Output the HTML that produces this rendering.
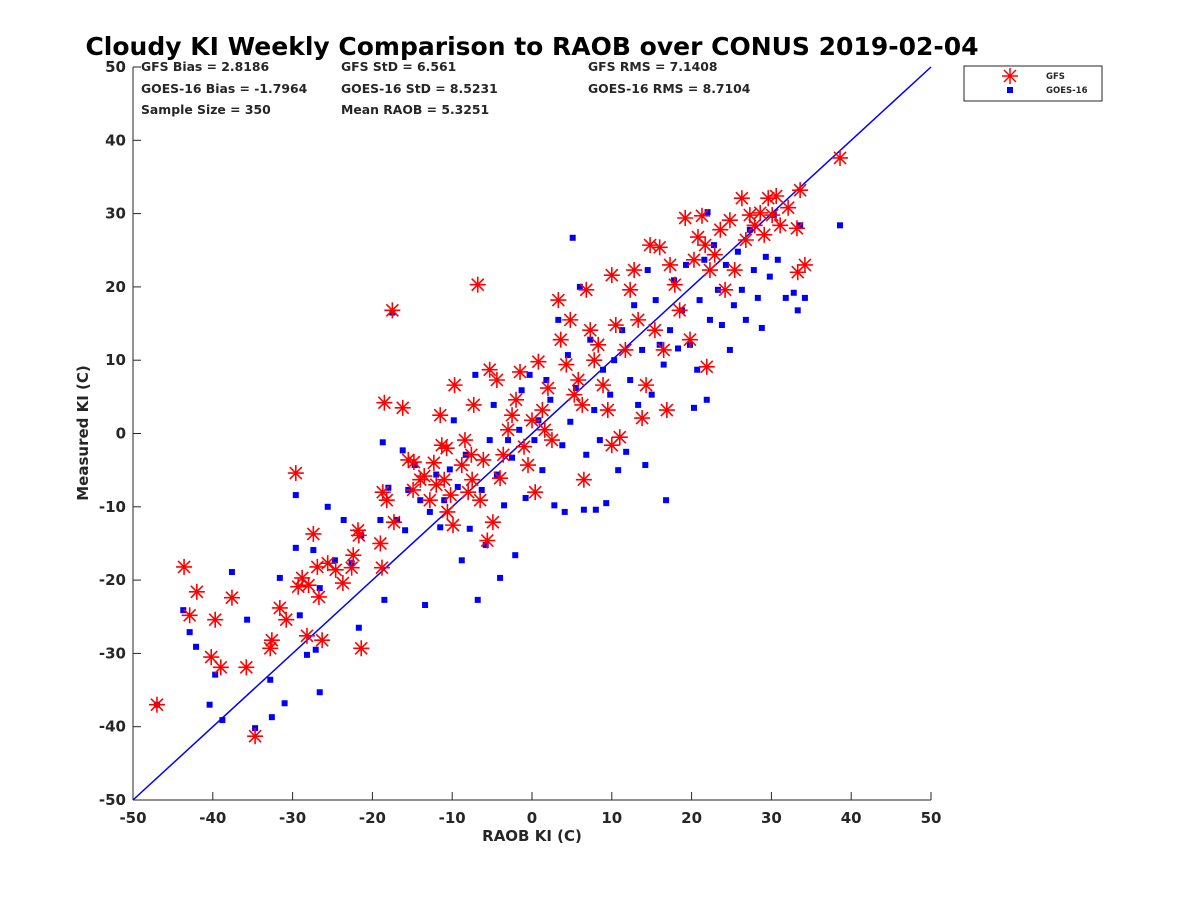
<!DOCTYPE html>
<html><head><meta charset="utf-8"><style>
body{margin:0;background:#fff}
svg text{font-family:"DejaVu Sans","Liberation Sans",sans-serif;font-weight:bold;fill:#262626}
</style></head><body>
<svg id="chart" width="1200" height="900" xmlns="http://www.w3.org/2000/svg">
<rect width="1200" height="900" fill="#fff"/>
<text x="532" y="55" text-anchor="middle" font-size="25" style="fill:#000">Cloudy KI Weekly Comparison to RAOB over CONUS 2019-02-04</text>
<g font-size="12.4">
<text x="141" y="71">GFS Bias = 2.8186</text>
<text x="141" y="93">GOES-16 Bias = -1.7964</text>
<text x="141" y="114">Sample Size = 350</text>
<text x="341" y="71">GFS StD = 6.561</text>
<text x="341" y="93">GOES-16 StD = 8.5231</text>
<text x="341" y="114">Mean RAOB = 5.3251</text>
<text x="588" y="71">GFS RMS = 7.1408</text>
<text x="588" y="93">GOES-16 RMS = 8.7104</text>
</g>
<g id="axes"></g>
<g id="marks"></g>
<text x="532" y="841" text-anchor="middle" font-size="15">RAOB KI (C)</text>
<text transform="translate(88,433) rotate(-90)" text-anchor="middle" font-size="15">Measured KI (C)</text>
<g>
<rect x="964" y="66" width="138" height="35" fill="#fff" stroke="#262626" stroke-width="1"/>
<g stroke="#f00" stroke-width="1.5">
<line x1="1002" y1="76" x2="1018" y2="76"/><line x1="1010" y1="68" x2="1010" y2="84"/><line x1="1004" y1="70" x2="1016" y2="82"/><line x1="1004" y1="82" x2="1016" y2="70"/></g>
<text x="1046" y="79" font-size="8.5">GFS</text>
<rect x="1007" y="87" width="6" height="6" fill="#00f"/>
<text x="1046" y="93" font-size="8.5">GOES-16</text>
</g>
</svg>
<script>
const xTicks=[-50,-40,-30,-20,-10,0,10,20,30,40,50];
const yTicks=[-50,-40,-30,-20,-10,0,10,20,30,40,50];
const gfsX=[-47,-43.6,-42.9,-42,-40.2,-39.7,-39,-37.6,-35.8,-34.7,-32.8,-32.6,-31.6,-30.8,-29.6,-29.3,-28.8,-28.2,-28,-27.4,-26.9,-26.7,-26.3,-25.6,-24.6,-23.7,-22.4,-21.8,-21.7,-21.4,-22.6,-19,-18.8,-18.5,-18.7,-18.2,-17.5,-17.3,-16.2,-15.5,-14.9,-14,-13.5,-12.8,-12.3,-12,-11.5,-11.3,-11,-10.6,-10.2,-9.9,-9.7,-8.8,-8.4,-8,-7.6,-7.3,-6.8,-6.5,-6.1,-5.6,-5.3,-4.9,-4.4,-4,-3.6,-3,-2.5,-2,-1.5,-1,-0.5,0,0.4,0.8,1.3,1.6,2,2.5,3.3,3.6,4.3,4.8,5.3,5.8,6.3,6.5,6.8,7.3,7.8,8.3,8.9,9.5,10,10.5,11,11.7,12.3,12.8,13.3,13.8,14.3,14.8,15.4,16,16.5,16.9,17.3,17.9,18.5,19.2,19.8,20.3,20.8,21.3,21.7,21.9,22.3,22.9,23.6,24.2,24.8,25.4,26.3,26.8,27.3,27.9,28.6,29.1,29.6,30.1,30.6,31.1,32.1,33.2,33.6,33.3,34.2,38.6,10,-7.5,-10.7,-14.8];
const gfsY=[-37,-18.2,-24.8,-21.6,-30.5,-25.4,-31.9,-22.4,-31.9,-41.3,-29.3,-28.2,-23.8,-25.4,-5.4,-20.9,-19.7,-27.6,-20.7,-13.7,-18.2,-22.3,-28.2,-17.7,-18.6,-20.4,-16.6,-13.2,-13.9,-29.3,-18.3,-15,-18.3,4.2,-8,-9.1,16.8,-12.1,3.5,-3.6,-7.7,-6.3,-5.8,-9.1,-4,-7,2.5,-1.6,-6.3,-10.7,-8.4,-12.5,6.6,-4.3,-0.9,-8,-2.9,3.9,20.3,-9.1,-3.6,-14.6,8.7,-12.1,7.3,-6.1,-2.9,0.5,2.5,4.6,8.4,-1.8,-4.3,1.8,-8,9.8,3.2,0.5,6.2,-0.9,18.2,12.8,9.4,15.5,5.3,7.3,3.9,-6.3,19.6,14.1,10,12.1,6.6,3.2,21.6,14.8,-0.5,11.4,19.6,22.3,15.5,2.1,6.6,25.7,14.1,25.4,11.4,3.2,23,20.3,16.8,29.4,12.8,23.7,26.8,29.7,25.7,9.1,22.3,24.4,27.8,19.6,29.1,22.3,32.1,26.4,29.8,28.4,30.1,27.1,32.1,29.8,32.4,28.4,30.8,28,33.2,22,23,37.6,-1.6,-6.3,-2,-3.9];
const goesX=[-47,-43.7,-42.9,-42.1,-40.4,-39.7,-38.8,-37.6,-35.7,-34.7,-32.8,-32.6,-31.6,-31,-29.6,-29.6,-29.1,-28.2,-27.4,-27.1,-26.6,-26.6,-25.6,-24.7,-23.6,-22.6,-21.7,-21.4,-19,-18.5,-18.7,-18,-17.5,-16.9,-16.2,-15.9,-15.5,-14.7,-14,-13.4,-12.8,-12,-11.5,-11,-10.3,-9.8,-9.3,-8.8,-8.3,-7.8,-7.1,-6.8,-6.3,-5.8,-5.3,-4.8,-4.4,-4,-3.5,-3,-2.5,-2.1,-1.6,-1.3,-0.8,-0.3,0.3,0.8,1.3,1.8,2.3,2.8,3.3,3.8,4.1,4.5,4.8,5.1,5.5,6,6.5,6.8,7.3,7.8,8,8.5,8.9,9.3,9.8,10.3,10.8,11.3,11.8,12.3,12.8,13.3,13.8,14.2,14.5,15,15.5,16,16.5,16.8,17.3,17.8,18.3,18.8,19.3,19.8,20.3,20.7,21,21.6,21.9,22.3,22.8,23.3,23.8,24.3,24.8,25.3,25.8,26.3,26.8,27.3,27.8,28.3,28.8,29.3,29.8,30.3,30.8,31.8,32.8,33.3,33.6,34.2,38.6,22];
const goesY=[-37,-24.1,-27.1,-29.1,-37,-32.9,-39.1,-18.9,-25.4,-40.2,-33.6,-38.7,-19.7,-36.8,-15.6,-8.4,-24.8,-30.2,-15.9,-29.5,-35.3,-21.1,-10,-17.3,-11.8,-17.7,-26.5,-13.9,-11.8,-22.7,-1.2,-7.4,16.5,-11.8,-2.3,-13.2,-7.7,-4.3,-9.1,-23.4,-10.7,-5.6,-12.8,-9.1,-4.9,1.8,-7.3,-17.3,-2.9,-13,8,-22.7,-7.7,-15.2,-0.9,3.9,-5.6,-19.7,-9.8,-0.9,-3.3,-16.6,0.5,5.9,-8.8,8,-0.9,1.8,-5,7.3,4.6,-9.8,15.5,-1.6,-10.7,10.7,1.6,26.7,6.2,20,-10.4,-2.9,12.8,3.2,-10.4,-0.9,8.7,-9.5,5.3,10,-5,14.1,-2.5,7.3,17.5,3.9,11.4,-4.3,22.3,5.3,18.2,12.1,9.4,-9.1,14.1,20.9,11.6,16.8,23,12.1,3.5,8.7,18.2,23.7,4.6,15.5,25.7,19.6,14.8,23,11.4,17.5,24.8,19.6,15.5,27.8,22.3,18.5,14.4,24.1,21.4,29.8,23.7,18.5,19.2,16.8,28.4,18.5,28.4,30.2];
const L=133,R=931,T=67,B=800;
const sx=v=>L+(v+50)/100*(R-L);
const sy=v=>B-(v+50)/100*(B-T);
const NS='http://www.w3.org/2000/svg';
function mk(tag,attrs,parent){const e=document.createElementNS(NS,tag);for(const k in attrs)e.setAttribute(k,attrs[k]);parent.appendChild(e);return e;}
const ax=document.getElementById('axes'),mg=document.getElementById('marks');
const xl=mk('line',{x1:L,y1:B,x2:R,y2:B,stroke:'#262626','stroke-width':1},ax);


const yl=mk('line',{x1:L,y1:T,x2:L,y2:B,stroke:'#262626','stroke-width':1},ax);


xTicks.forEach(v=>{
 mk('line',{x1:sx(v),y1:B,x2:sx(v),y2:B-8,stroke:'#262626'},ax);
 const t=mk('text',{x:sx(v),y:B+23,'text-anchor':'middle','font-size':15},ax);
 t.textContent=v;
 
 
});
yTicks.forEach(v=>{
 mk('line',{x1:L,y1:sy(v),x2:L+8,y2:sy(v),stroke:'#262626'},ax);
 const t=mk('text',{x:L-7,y:sy(v)+5,'text-anchor':'end','font-size':15},ax);
 t.textContent=v;
 
 
});
const ref=mk('line',{x1:sx(-50),y1:sy(-50),x2:sx(50),y2:sy(50),stroke:'#00f','stroke-width':1.5},mg);


goesX.forEach((v,i)=>{
 const r=mk('rect',{x:sx(v)-3,y:sy(goesY[i])-3,width:6,height:6,fill:'#00f'},mg);
 
 
});
gfsX.forEach((v,i)=>{
 const cx=sx(v),cy=sy(gfsY[i]);
 const g=mk('g',{stroke:'#f00','stroke-width':1.6},mg);
 
 
 mk('line',{x1:cx-8,y1:cy,x2:cx+8,y2:cy},g);
 mk('line',{x1:cx,y1:cy-8,x2:cx,y2:cy+8},g);
 mk('line',{x1:cx-6,y1:cy-6,x2:cx+6,y2:cy+6},g);
 mk('line',{x1:cx-6,y1:cy+6,x2:cx+6,y2:cy-6},g);
});
</script>
</body></html>
